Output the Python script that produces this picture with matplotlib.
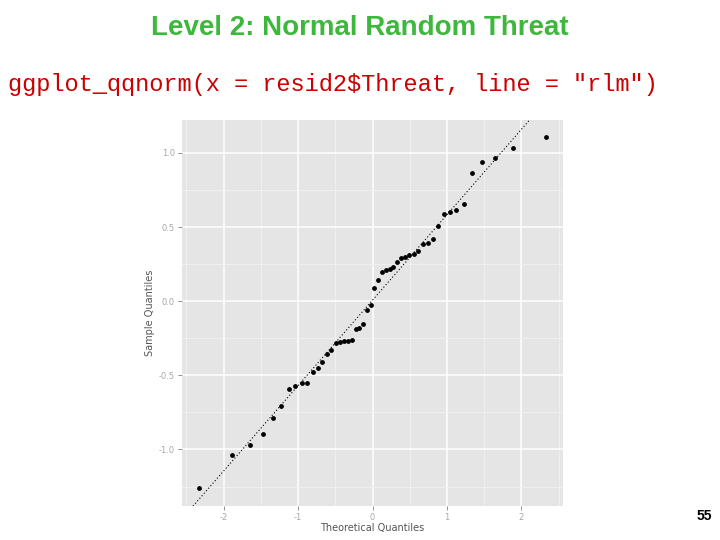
import numpy as np
import matplotlib.pyplot as plt
from matplotlib.ticker import MultipleLocator

# cuantiles teoricos (eje x) y residuos ordenados (eje y)
theoretical = [-2.326, -1.881, -1.645, -1.476, -1.341, -1.227, -1.126, -1.036, -0.954, -0.878,
               -0.806, -0.739, -0.674, -0.613, -0.553, -0.496, -0.440, -0.385, -0.332, -0.279,
               -0.228, -0.176, -0.126, -0.075, -0.025, 0.025, 0.075, 0.126, 0.176, 0.228,
               0.279, 0.332, 0.385, 0.440, 0.496, 0.553, 0.613, 0.674, 0.739, 0.806,
               0.878, 0.954, 1.036, 1.126, 1.227, 1.341, 1.476, 1.645, 1.881, 2.326]
sample = [-1.263, -1.034, -0.973, -0.895, -0.787, -0.706, -0.591, -0.575, -0.555, -0.555,
          -0.477, -0.452, -0.413, -0.359, -0.330, -0.283, -0.272, -0.270, -0.270, -0.263,
          -0.187, -0.180, -0.155, -0.059, -0.025, 0.086, 0.144, 0.196, 0.211, 0.218,
          0.229, 0.263, 0.292, 0.299, 0.310, 0.317, 0.337, 0.386, 0.393, 0.420,
          0.506, 0.589, 0.602, 0.616, 0.656, 0.865, 0.942, 0.969, 1.034, 1.104]
# recta rlm
rlm_intercept = 0.007
rlm_slope = 0.576
x_ticks = [-2, -1, 0, 1, 2]
x_labels = ['-2', '-1', '0', '1', '2']
y_ticks = [-1.0, -0.5, 0.0, 0.5, 1.0]
y_labels = ['-1.0', '-0.5', '0.0', '0.5', '1.0']

fig = plt.figure(figsize=(7.2, 5.4), dpi=100)
fig.text(0.5, 0.949, 'Level 2: Normal Random Threat', ha='center', va='center',
         color='#3DB83D', fontsize=20, fontweight='bold', family='Liberation Sans')
fig.text(0.011, 0.843, 'ggplot_qqnorm(x = resid2$Threat, line = "rlm")', ha='left', va='center',
         color='#CC0000', fontsize=17, family='Liberation Mono')
fig.text(0.989, 0.044, '55', ha='right', va='center', fontsize=10, fontweight='bold',
         family='Liberation Sans')

ax = fig.add_axes([0.2528, 0.0630, 0.5292, 0.7148])
ax.set_facecolor('#E5E5E5')
for s in ax.spines.values():
    s.set_visible(False)
ax.set_xlim(-2.559, 2.559)
ax.set_ylim(-1.381, 1.222)
ax.set_xticks(x_ticks)
ax.set_xticklabels(x_labels)
ax.set_yticks(y_ticks)
ax.set_yticklabels(y_labels)
ax.xaxis.set_minor_locator(MultipleLocator(0.5))
ax.yaxis.set_minor_locator(MultipleLocator(0.25))
ax.grid(which='major', color='white', linewidth=1.1)
ax.grid(which='minor', color='#F2F2F2', linewidth=0.6)
ax.set_axisbelow(True)
ax.tick_params(which='major', length=3, width=0.6, color='#7F7F7F', labelsize=6,
               labelcolor='#A8A8A8', pad=2)
ax.tick_params(which='minor', length=0)

xs = np.array([-2.559, 2.559])
ax.plot(xs, rlm_intercept + rlm_slope * xs, color='black', linestyle=(0, (1, 2)), linewidth=0.8)
ax.scatter(theoretical, sample, s=6, color='black', zorder=3)

ax.set_xlabel('Theoretical Quantiles', fontsize=7, color='#555555', labelpad=1)
ax.set_ylabel('Sample Quantiles', fontsize=7, color='#555555', labelpad=3)

plt.savefig('out.png', dpi=100)
